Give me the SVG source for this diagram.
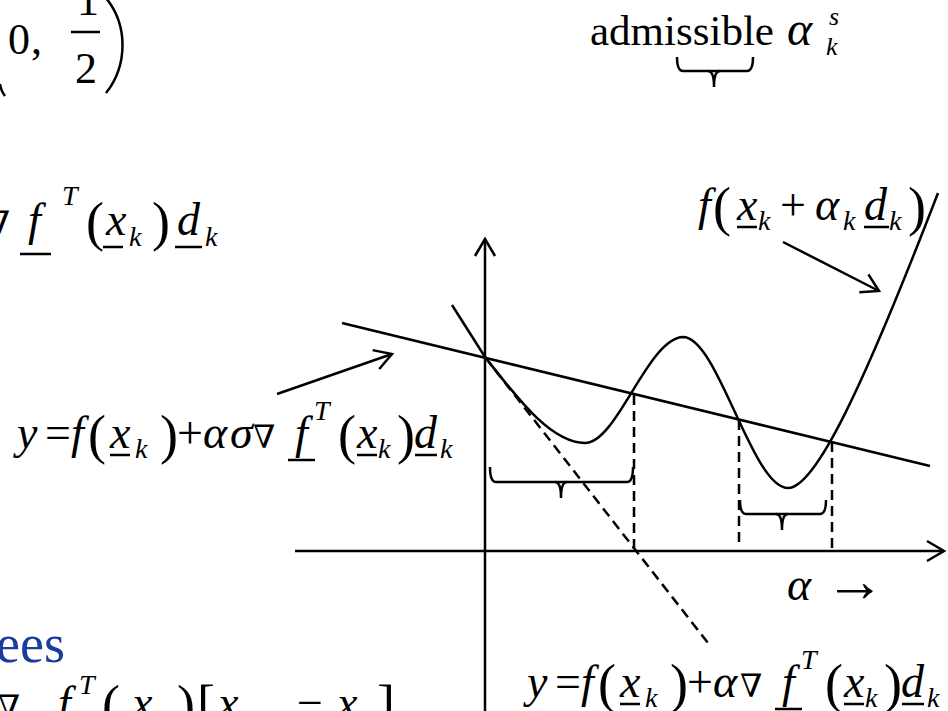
<svg xmlns="http://www.w3.org/2000/svg" width="948" height="711" viewBox="0 0 948 711">
<style>
.m{font-family:"Liberation Serif","DejaVu Serif",serif;fill:#000}
.i{font-style:italic}
.n{font-size:46px}
.s{font-size:28px}
.p{font-size:54px}
.nb{font-size:32px;font-family:"DejaVu Serif",serif}
.ln{stroke:#000;stroke-width:2.5;fill:none}
.ul{stroke:#000;stroke-width:2.5}
.dash{stroke-dasharray:10 6}
</style>
<defs>
<marker id="ah" markerUnits="userSpaceOnUse" markerWidth="30" markerHeight="30" viewBox="-22 -15 30 30" refX="0" refY="0" orient="auto">
<path d="M-17,-10 L0,0 L-17,10" fill="none" stroke="#000" stroke-width="2.5"/>
</marker>
</defs>
<rect width="948" height="711" fill="#fff"/>

<g id="axes">
<line class="ln" x1="485" y1="711" x2="485" y2="239" marker-end="url(#ah)"/>
<line class="ln" x1="295" y1="551" x2="944" y2="551" marker-end="url(#ah)"/>
</g>

<g id="curve">
<path class="ln" d="M485,357 C515,395 550,443 585,443 C617,443 648,338 683,337 C718,337 752,488 788,488 C815,488 862,390 938,193"/>
</g>

<g id="connectors">
<line class="ln" x1="342" y1="323" x2="930" y2="466"/>
<line class="ln" x1="452" y1="305" x2="485" y2="357"/>
<line class="ln dash" x1="485" y1="357" x2="708" y2="643"/>
<line class="ln dash" x1="634" y1="395" x2="634" y2="551"/>
<line class="ln dash" x1="739" y1="420" x2="739" y2="548"/>
<line class="ln dash" x1="832" y1="442" x2="832" y2="551"/>
<line class="ln" x1="277" y1="394" x2="392" y2="354" marker-end="url(#ah)"/>
<line class="ln" x1="783" y1="242" x2="879" y2="291" marker-end="url(#ah)"/>
</g>

<g id="braces">
<path class="ln" d="M490,467 Q490,482 496,482 L627,482 Q633,482 633,467"/>
<path class="ln" d="M555,482 Q561,482 561,498 M567,482 Q561,482 561,498"/>
<path class="ln" d="M740,500 Q740,514 746,514 L820,514 Q826,514 826,500"/>
<path class="ln" d="M776,514 Q782,514 782,530 M788,514 Q782,514 782,530"/>
<path class="ln" d="M677,57 Q677,71 683,71 L747,71 Q753,71 753,57"/>
<path class="ln" d="M708,71 Q714,71 714,87 M720,71 Q714,71 714,87"/>
</g>

<g id="delimiters">
<path class="ln" d="M106,-2 C128,25 128,65 106,93"/>
<path class="ln" d="M0,84 Q1,91 5,96"/>
<line class="ul" x1="71" y1="32" x2="100" y2="32"/>
</g>

<g id="underlines">
<line class="ul" x1="20" y1="254" x2="51" y2="254"/>
<line class="ul" x1="103" y1="247" x2="123" y2="247"/>
<line class="ul" x1="175" y1="247" x2="202" y2="247"/>
<line class="ul" x1="110" y1="455" x2="130" y2="455"/>
<line class="ul" x1="288" y1="460" x2="315" y2="460"/>
<line class="ul" x1="357" y1="455" x2="377" y2="455"/>
<line class="ul" x1="415" y1="455" x2="437" y2="455"/>
<line class="ul" x1="620" y1="704" x2="640" y2="704"/>
<line class="ul" x1="775" y1="709" x2="802" y2="709"/>
<line class="ul" x1="844" y1="704" x2="864" y2="704"/>
<line class="ul" x1="902" y1="704" x2="924" y2="704"/>
<line class="ul" x1="737" y1="227" x2="757" y2="227"/>
<line class="ul" x1="864" y1="227" x2="889" y2="227"/>
</g>

<g id="labels" class="m">
<g id="top-left-fraction">
<text x="8" y="54" style="font-size:44px">0</text>
<text x="31" y="54" style="font-size:44px">,</text>
<text x="77" y="15" style="font-size:44px">1</text>
<text x="75" y="83" style="font-size:44px">2</text>
</g>
<g id="admissible">
<text x="590" y="45" style="font-size:43px">admissible</text>
<text class="i" x="787" y="45" style="font-size:48px">α</text>
<text class="i" x="829" y="25" style="font-size:26px">s</text>
<text class="i" x="826" y="55" style="font-size:26px">k</text>
</g>
<g id="grad-term">
<text class="nb" x="10" y="234" text-anchor="end">∇</text>
<text class="n i" x="28" y="235">f</text>
<text class="s i" x="62" y="205">T</text>
<text class="p" x="86" y="240">(</text>
<text class="n i" x="106" y="235">x</text>
<text class="s i" x="129" y="246">k</text>
<text class="p" x="152" y="240">)</text>
<text class="n i" x="177" y="235">d</text>
<text class="s i" x="205" y="246">k</text>
</g>
<g id="f-label">
<text class="n i" x="698" y="220">f</text>
<text class="p" x="713" y="225">(</text>
<text class="n i" x="737" y="220">x</text>
<text class="s i" x="758" y="230">k</text>
<text class="n" x="780" y="220">+</text>
<text class="n i" x="815" y="220">α</text>
<text class="s i" x="843" y="230">k</text>
<text class="n i" x="864" y="220">d</text>
<text class="s i" x="889" y="230">k</text>
<text class="p" x="908" y="225">)</text>
</g>
<g id="sigma-line-label">
<text class="n i" x="17" y="448">y</text>
<text class="n" x="45" y="448">=</text>
<text class="n i" x="71" y="448">f</text>
<text class="p" x="88" y="453">(</text>
<text class="n i" x="110" y="448">x</text>
<text class="s i" x="135" y="458">k</text>
<text class="p" x="160" y="453">)</text>
<text class="n" x="177" y="448">+</text>
<text class="n i" x="203" y="448">α</text>
<text class="n i" x="230" y="448">σ</text>
<text class="nb" x="253" y="448">∇</text>
<text class="n i" x="295" y="448">f</text>
<text class="s i" x="314" y="420">T</text>
<text class="p" x="338" y="453">(</text>
<text class="n i" x="357" y="448">x</text>
<text class="s i" x="378" y="458">k</text>
<text class="p" x="397" y="453">)</text>
<text class="n i" x="414" y="448">d</text>
<text class="s i" x="440" y="458">k</text>
</g>
<g id="tangent-label">
<text class="n i" x="527" y="697">y</text>
<text class="n" x="555" y="697">=</text>
<text class="n i" x="581" y="697">f</text>
<text class="p" x="598" y="702">(</text>
<text class="n i" x="620" y="697">x</text>
<text class="s i" x="645" y="707">k</text>
<text class="p" x="670" y="702">)</text>
<text class="n" x="687" y="697">+</text>
<text class="n i" x="713" y="697">α</text>
<text class="nb" x="740" y="697">∇</text>
<text class="n i" x="782" y="697">f</text>
<text class="s i" x="801" y="669">T</text>
<text class="p" x="825" y="702">(</text>
<text class="n i" x="844" y="697">x</text>
<text class="s i" x="865" y="707">k</text>
<text class="p" x="884" y="702">)</text>
<text class="n i" x="901" y="697">d</text>
<text class="s i" x="927" y="707">k</text>
</g>
<g id="alpha-axis-label">
<text class="n i" x="787" y="600">α</text>
<text x="825" y="601" style="font-size:60px">→</text>
</g>
<g id="ees">
<text x="65" y="662" text-anchor="end" style="font-size:54px;fill:#1a3c9c">ees</text>
</g>
<g id="bottom-formula">
<text class="nb" x="20" y="718" text-anchor="end">∇</text>
<text class="n i" x="58" y="718">f</text>
<text class="s i" x="79" y="694">T</text>
<text class="p" x="102" y="723">(</text>
<text class="n i" x="132" y="718">x</text>
<text class="p" x="177" y="723">)</text>
<text class="p" x="197" y="723">[</text>
<text class="n i" x="218" y="718">x</text>
<text class="n" x="297" y="718">−</text>
<text class="n i" x="337" y="718">x</text>
<text class="p" x="377" y="723">]</text>
</g>
</g>
</svg>
